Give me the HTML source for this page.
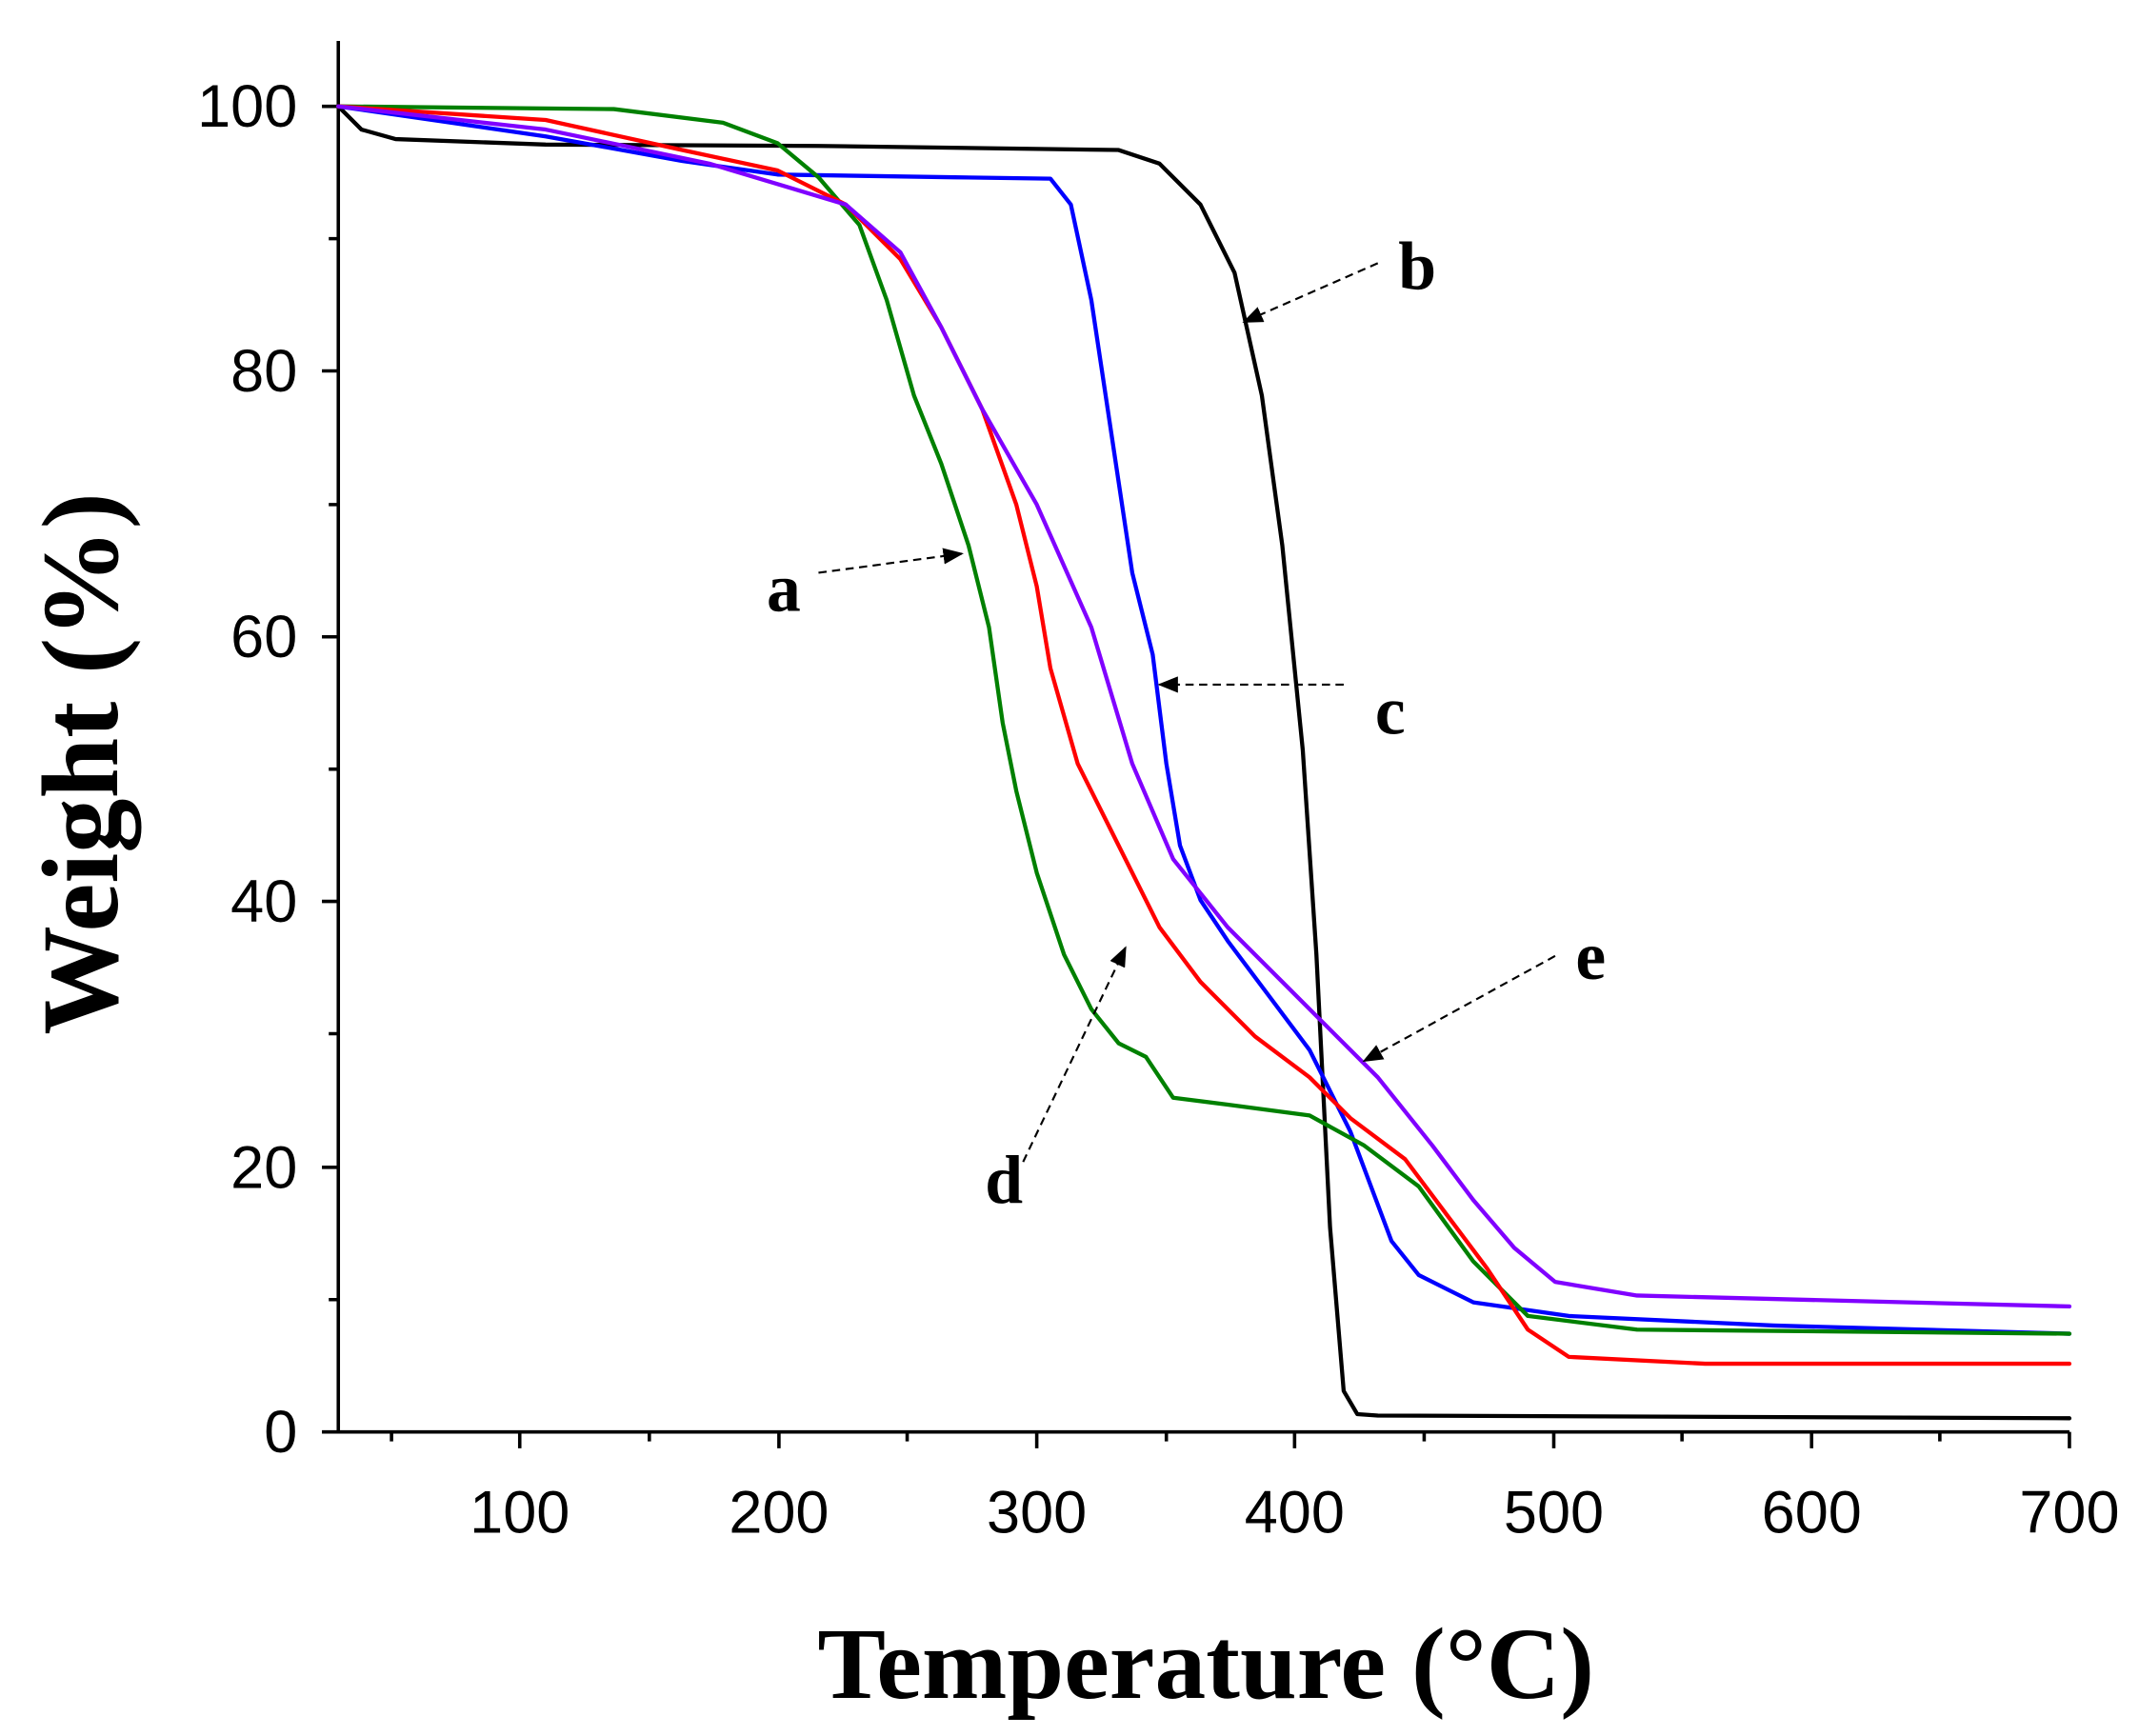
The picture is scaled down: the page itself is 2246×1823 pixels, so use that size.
<!DOCTYPE html>
<html><head><meta charset="utf-8"><style>html,body{margin:0;padding:0;background:#fff}svg{display:block}</style></head>
<body>
<svg width="2246" height="1823" viewBox="0 0 1568 1273" preserveAspectRatio="none" xmlns="http://www.w3.org/2000/svg">
<defs><marker id="ah" markerWidth="10" markerHeight="8" refX="9" refY="4" orient="auto"><path d="M0,0 L10,4 L0,8 Z" fill="#000"/></marker></defs>
<g stroke="#000" stroke-width="2.5" fill="none">
<path d="M248,30 V1050 H1517"/>
<path d="M381,1050v12M571,1050v12M760,1050v12M949,1050v12M1139,1050v12M1328,1050v12M1517,1050v12"/>
<path d="M287,1050v7M476,1050v7M665,1050v7M855,1050v7M1044,1050v7M1233,1050v7M1422,1050v7"/>
<path d="M248,1050h-12M248,856h-12M248,661h-12M248,467h-12M248,272h-12M248,78h-12"/>
<path d="M248,953h-7M248,758h-7M248,564h-7M248,370h-7M248,175h-7"/>
</g>
<g font-family="Liberation Sans, sans-serif" font-size="44" fill="#000" text-anchor="middle">
<text x="381" y="1124">100</text><text x="571" y="1124">200</text><text x="760" y="1124">300</text><text x="949" y="1124">400</text><text x="1139" y="1124">500</text><text x="1328" y="1124">600</text><text x="1517" y="1124">700</text>
</g>
<g font-family="Liberation Sans, sans-serif" font-size="44" fill="#000" text-anchor="end">
<text x="218" y="1065">0</text><text x="218" y="871">20</text><text x="218" y="676">40</text><text x="218" y="482">60</text><text x="218" y="287">80</text><text x="218" y="93">100</text>
</g>
<text x="884" y="1245" font-family="Liberation Serif, serif" font-weight="bold" font-size="75" text-anchor="middle">Temperature (°C)</text>
<text transform="translate(86,560) rotate(-90)" font-family="Liberation Serif, serif" font-weight="bold" font-size="80" text-anchor="middle">Weight (%)</text>
<g fill="none" stroke-width="3" stroke-linejoin="round" stroke-linecap="round">
<polyline stroke="#000" points="248,78 265,95 290,102 400,106 600,107 820,110 850,120 880,150 905,200 925,290 940,400 955,550 965,700 975,900 985,1020 995,1037 1010,1038 1517,1040"/>
<polyline stroke="#0000ff" points="248,78 400,100 500,118 570,128 700,130 770,131 785,150 800,220 815,320 830,420 845,480 855,560 865,620 880,660 900,690 930,730 960,770 990,830 1020,910 1040,935 1080,955 1150,965 1300,972 1517,978"/>
<polyline stroke="#008000" points="248,78 450,80 530,90 570,105 600,130 630,165 650,220 670,290 690,340 710,400 725,460 735,530 745,580 760,640 780,700 800,740 820,765 840,775 860,805 900,810 960,818 1000,840 1040,870 1080,925 1120,965 1200,975 1517,978"/>
<polyline stroke="#ff0000" points="248,78 400,88 500,110 570,125 620,150 660,190 690,240 720,300 745,370 760,430 770,490 790,560 820,620 850,680 880,720 920,760 960,790 990,820 1030,850 1060,890 1090,930 1120,975 1150,995 1250,1000 1517,1000"/>
<polyline stroke="#8000ff" points="248,78 400,95 520,120 570,135 620,150 660,185 690,240 720,300 760,370 800,460 830,560 860,630 900,680 940,720 980,760 1010,790 1050,840 1080,880 1110,915 1140,940 1200,950 1517,958"/>
</g>
<g stroke="#000" stroke-width="1.5" stroke-dasharray="6,4" fill="none" marker-end="url(#ah)">
<line x1="600" y1="420" x2="705" y2="406"/>
<line x1="1010" y1="193" x2="912" y2="236"/>
<line x1="985" y1="502" x2="850" y2="502"/>
<line x1="750" y1="852" x2="825" y2="695"/>
<line x1="1140" y1="701" x2="1000" y2="778"/>
</g>
<g font-family="Liberation Serif, serif" font-weight="bold" font-size="50" fill="#000">
<text x="562" y="448">a</text><text x="1025" y="212">b</text><text x="1008" y="538">c</text><text x="722" y="882">d</text><text x="1155" y="718">e</text>
</g>
</svg>
</body></html>
